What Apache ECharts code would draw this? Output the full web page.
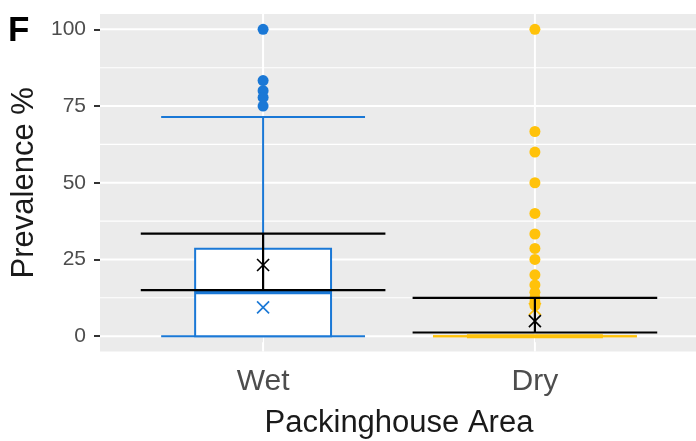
<!DOCTYPE html>
<html>
<head>
<meta charset="utf-8">
<script src="https://cdn.jsdelivr.net/npm/echarts@6/dist/echarts.min.js"></script>
<style>
  html, body { margin: 0; padding: 0; background: #fff; }
  #chart { width: 696px; height: 441px; }
</style>
</head>
<body>
<div id="chart"></div>
<script>
// ---- data ----
const categories = ['Wet', 'Dry'];
const groupColors = ['#1A78D6', '#FFC20A'];
const boxLow = [0, 0];
const boxQ1 = [0, 0];
const boxMedian = [14.3, 0];
const boxQ3 = [28.5, 0];
const boxHigh = [71.4, 0];
const wetOutliers = [100, 83.3, 80, 77.8, 75];
const dryOutliers = [100, 66.7, 60, 50, 40, 33.3, 28.6, 25, 20, 16.7, 14.3, 12.5, 11.1, 10];
const meanValues = [23.2, 4.9];
const ciLower = [15.0, 1.2];
const ciUpper = [33.4, 12.5];
const crossValues = [9.4, 8.8];
const yTicks = [0, 25, 50, 75, 100];
const yMinorTicks = [12.5, 37.5, 62.5, 87.5];
const xTicks = [1, 2];

const FONT = 'Liberation Sans, Arial, sans-serif';
const chart = echarts.init(document.getElementById('chart'), null, { renderer: 'canvas' });

const hLines = yTicks.map(v => [v, 1]).concat(yMinorTicks.map(v => [v, 0]));
const vLines = xTicks.map(v => [v]);

const boxData = categories.map((c, i) => [i + 1, boxLow[i], boxQ1[i], boxMedian[i], boxQ3[i], boxHigh[i]]);
const ciData = categories.map((c, i) => [i + 1, ciLower[i], meanValues[i], ciUpper[i]]);
const crossData = categories.map((c, i) => [i + 1, crossValues[i]]);

function crossShape(cx, cy, h, color, lw) {
  return {
    type: 'group',
    children: [
      { type: 'line', shape: { x1: cx - h, y1: cy - h, x2: cx + h, y2: cy + h }, style: { stroke: color, lineWidth: lw } },
      { type: 'line', shape: { x1: cx - h, y1: cy + h, x2: cx + h, y2: cy - h }, style: { stroke: color, lineWidth: lw } }
    ]
  };
}

const option = {
  animation: false,
  textStyle: { fontFamily: FONT },
  title: {
    text: 'F', left: 3, top: 9,
    textStyle: { fontSize: 35, fontWeight: 'bold', color: '#000', fontFamily: FONT }
  },
  grid: {
    left: 100, top: 14, right: -2, bottom: 89.5,
    outerBoundsMode: 'none', containLabel: false,
    show: true, backgroundColor: '#EBEBEB', borderWidth: 0
  },
  xAxis: {
    type: 'value', min: 0.4, max: 2.6,
    axisLine: { show: false },
    splitLine: { show: false },
    axisTick: { show: true, customValues: xTicks, length: 6, lineStyle: { color: '#333', width: 2 } },
    axisLabel: {
      customValues: xTicks, margin: 15,
      formatter: v => categories[Math.round(v) - 1] || '',
      fontSize: 30, color: '#4D4D4D', fontFamily: FONT
    },
    name: 'Packinghouse Area', nameLocation: 'middle', nameGap: 56,
    nameTextStyle: { fontSize: 31, color: '#1A1A1A', fontFamily: FONT }
  },
  yAxis: {
    type: 'value', min: -5, max: 105,
    axisLine: { show: false },
    splitLine: { show: false },
    axisTick: { show: true, customValues: yTicks, length: 6, lineStyle: { color: '#333', width: 2 } },
    axisLabel: {
      customValues: yTicks, margin: 14,
      fontSize: 21, color: '#4D4D4D', fontFamily: FONT
    },
    name: 'Prevalence %', nameLocation: 'middle', nameGap: 58,
    nameTextStyle: { fontSize: 31, color: '#1A1A1A', fontFamily: FONT }
  },
  series: [
    {
      type: 'custom', z: 1, silent: true,
      data: hLines,
      renderItem: (params, api) => {
        const cs = params.coordSys;
        const y = api.coord([1, api.value(0)])[1];
        const major = api.value(1) === 1;
        return { type: 'line', shape: { x1: cs.x, y1: y, x2: cs.x + cs.width, y2: y },
          style: { stroke: '#FFFFFF', lineWidth: major ? 2 : 1.1 } };
      }
    },
    {
      type: 'custom', z: 1, silent: true,
      data: vLines,
      renderItem: (params, api) => {
        const cs = params.coordSys;
        const x = api.coord([api.value(0), 0])[0];
        return { type: 'line', shape: { x1: x, y1: cs.y, x2: x, y2: cs.y + cs.height },
          style: { stroke: '#FFFFFF', lineWidth: 2 } };
      }
    },
    {
      type: 'custom', z: 2, silent: true,
      data: boxData,
      renderItem: (params, api) => {
        const i = params.dataIndex;
        const col = groupColors[i];
        const xv = api.value(0);
        const cx = api.coord([xv, 0])[0];
        const boxW = api.size([0.5, 0])[0];
        const barW = api.size([0.75, 0])[0];
        const yLow = api.coord([xv, api.value(1)])[1];
        const yQ1 = api.coord([xv, api.value(2)])[1];
        const yMed = api.coord([xv, api.value(3)])[1];
        const yQ3 = api.coord([xv, api.value(4)])[1];
        const yHigh = api.coord([xv, api.value(5)])[1];
        const lw = 2;
        return {
          type: 'group',
          children: [
            { type: 'line', shape: { x1: cx - barW / 2, y1: yHigh, x2: cx + barW / 2, y2: yHigh }, style: { stroke: col, lineWidth: lw } },
            { type: 'line', shape: { x1: cx - barW / 2, y1: yLow, x2: cx + barW / 2, y2: yLow }, style: { stroke: col, lineWidth: lw } },
            { type: 'line', shape: { x1: cx, y1: yHigh, x2: cx, y2: yQ3 }, style: { stroke: col, lineWidth: lw } },
            { type: 'line', shape: { x1: cx, y1: yQ1, x2: cx, y2: yLow }, style: { stroke: col, lineWidth: lw } },
            { type: 'rect', shape: { x: cx - boxW / 2, y: yQ3, width: boxW, height: yQ1 - yQ3 }, style: { fill: '#FFFFFF', stroke: col, lineWidth: lw } },
            { type: 'line', shape: { x1: cx - boxW / 2, y1: yMed, x2: cx + boxW / 2, y2: yMed }, style: { stroke: col, lineWidth: 4 } }
          ]
        };
      }
    },
    {
      type: 'scatter', z: 3, silent: true,
      data: wetOutliers.map(v => [1, v]),
      symbol: 'circle', symbolSize: 11,
      itemStyle: { color: groupColors[0], opacity: 1 }
    },
    {
      type: 'scatter', z: 3, silent: true,
      data: dryOutliers.map(v => [2, v]),
      symbol: 'circle', symbolSize: 11,
      itemStyle: { color: groupColors[1], opacity: 1 }
    },
    {
      type: 'custom', z: 2, silent: true,
      data: crossData,
      renderItem: (params, api) => {
        const p = api.coord([api.value(0), api.value(1)]);
        return crossShape(p[0], p[1], 6, groupColors[params.dataIndex], 1.6);
      }
    },
    {
      type: 'custom', z: 5, silent: true,
      data: ciData,
      renderItem: (params, api) => {
        const xv = api.value(0);
        const cx = api.coord([xv, 0])[0];
        const w = api.size([0.9, 0])[0];
        const yLo = api.coord([xv, api.value(1)])[1];
        const yMean = api.coord([xv, api.value(2)])[1];
        const yHi = api.coord([xv, api.value(3)])[1];
        return {
          type: 'group',
          children: [
            { type: 'line', shape: { x1: cx, y1: yLo, x2: cx, y2: yHi }, style: { stroke: '#000', lineWidth: 2.2 } },
            { type: 'line', shape: { x1: cx - w / 2, y1: yLo, x2: cx + w / 2, y2: yLo }, style: { stroke: '#000', lineWidth: 2.2 } },
            { type: 'line', shape: { x1: cx - w / 2, y1: yHi, x2: cx + w / 2, y2: yHi }, style: { stroke: '#000', lineWidth: 2.2 } },
            crossShape(cx, yMean, 6, '#000', 1.6)
          ]
        };
      }
    }
  ]
};
chart.setOption(option);
</script>
</body>
</html>
